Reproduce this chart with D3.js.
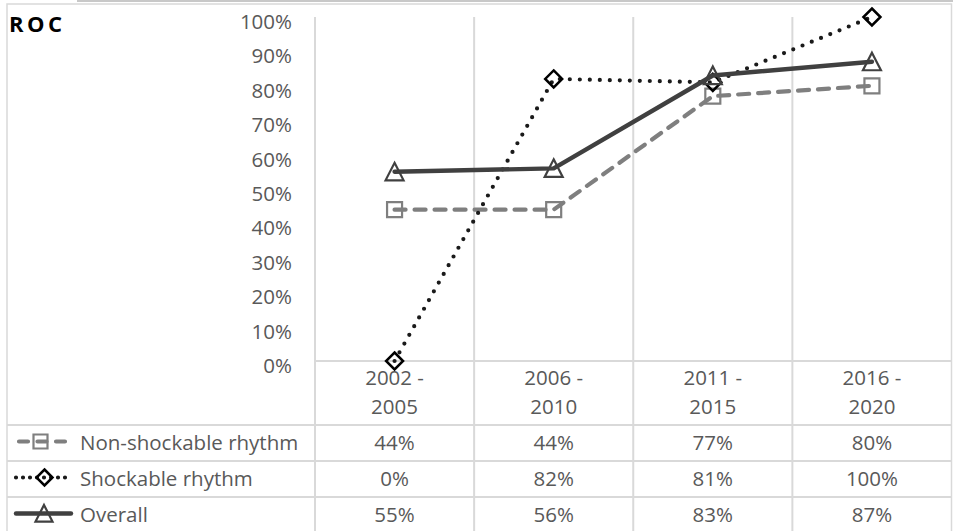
<!DOCTYPE html>
<html>
<head>
<meta charset="utf-8">
<script src="https://cdn.jsdelivr.net/npm/d3@7"></script>
<style>
  html, body { margin: 0; padding: 0; background: #fff; }
  svg { display: block; }
  text { font-family: "Open Sans", Lato, sans-serif; }
</style>
</head>
<body>
<svg id="chart" width="953" height="531"></svg>
<script>
// Periods and ROC rates (%) per rhythm group
const categories = ["2002 - 2005", "2006 - 2010", "2011 - 2015", "2016 - 2020"];
const nonShockable = [44, 44, 77, 80];
const shockable = [0, 82, 81, 100];
const overall = [55, 56, 83, 87];
const yTicks = [0, 10, 20, 30, 40, 50, 60, 70, 80, 90, 100];
const seriesNames = ["Non-shockable rhythm", "Shockable rhythm", "Overall"];

const series = [
  { name: seriesNames[0], values: nonShockable, color: "#7f7f7f", width: 4.2, dash: "11,9", keyDash: "9,9.5", keyX: [-24, 22], keyCx: -2.5, marker: "square", mColor: "#7f7f7f", mWidth: 2.2 },
  { name: seriesNames[1], values: shockable, color: "#1a1a1a", width: 4.2, dash: "0,10", keyDash: "0,7", keyX: [-27, 25], keyCx: 1.5, marker: "diamond", mColor: "#000", mWidth: 2.5 },
  { name: seriesNames[2], values: overall, color: "#404040", width: 4.4, dash: null, keyDash: null, keyX: [-27, 28], keyCx: 1, marker: "triangle", mColor: "#404040", mWidth: 2.2 }
];

const svg = d3.select("#chart");
const grid = "#d9d9d9";
const textColor = "#595959";
const fs = 20.5;

const frame = { left: 7, top: 4, right: 951.5 };
const plot = { left: 315, right: 951.5, top: 17, bottom: 361 };
const rows = [361, 425, 461, 497, 533];
const rowBaselines = [449.5, 485.5, 521.5];

const x = d3.scaleBand().domain(categories).range([plot.left, plot.right]).paddingInner(0).paddingOuter(0);
const y = d3.scaleLinear().domain([0, 100]).range([plot.bottom, plot.top]);
const cx = c => x(c) + x.bandwidth() / 2;

// Thin line above the chart frame
svg.append("line").attr("x1", 77).attr("x2", 953).attr("y1", 1).attr("y2", 1)
  .attr("stroke", "#c8c8c8").attr("stroke-width", 2);

// Chart frame
svg.append("rect").attr("x", frame.left).attr("y", frame.top)
  .attr("width", frame.right - frame.left).attr("height", 600)
  .attr("fill", "none").attr("stroke", grid).attr("stroke-width", 1.5);

// Title
svg.append("text").attr("x", 9).attr("y", 32)
  .attr("font-size", 22).attr("font-weight", 700).attr("letter-spacing", 3.5)
  .attr("font-family", "Lato, sans-serif")
  .attr("fill", "#000").text("ROC");

// Vertical gridlines (category boundaries), running through the data table
const bounds = categories.map(c => x(c));
svg.append("g").selectAll("line").data(bounds).join("line")
  .attr("x1", d => d).attr("x2", d => d)
  .attr("y1", plot.top).attr("y2", 531)
  .attr("stroke", grid).attr("stroke-width", 2);

// Horizontal rules: axis line and table rows
svg.append("line").attr("x1", plot.left).attr("x2", plot.right)
  .attr("y1", rows[0]).attr("y2", rows[0]).attr("stroke", grid).attr("stroke-width", 2);
svg.append("g").selectAll("line").data(rows.slice(1, 4)).join("line")
  .attr("x1", frame.left).attr("x2", plot.right)
  .attr("y1", d => d).attr("y2", d => d)
  .attr("stroke", grid).attr("stroke-width", 2);

// Y axis labels
const yAxis = d3.axisLeft(y).tickValues(yTicks).tickSize(0).tickPadding(0).tickFormat(d => d + "%");
const yg = svg.append("g").attr("transform", `translate(292,11.5)`).call(yAxis);
yg.select(".domain").remove();
yg.selectAll("text").attr("dy", null).attr("font-size", fs).attr("fill", textColor)
  .attr("font-family", "'Open Sans', sans-serif");

// Category labels (two lines)
const catG = svg.append("g");
categories.forEach(c => {
  const parts = c.split(" - ");
  const t = catG.append("text").attr("x", cx(c)).attr("text-anchor", "middle")
    .attr("font-size", fs).attr("fill", textColor);
  t.append("tspan").attr("x", cx(c)).attr("y", 385).text(parts[0] + " -");
  t.append("tspan").attr("x", cx(c)).attr("y", 413.5).text(parts[1]);
});

// Marker shapes
function markerPath(type, s) {
  const h = s / 2;
  if (type === "square") return `M${-h},${-h}H${h}V${h}H${-h}Z`;
  if (type === "diamond") return `M0,${-h}L${h},0L0,${h}L${-h},0Z`;
  return `M0,${-h}L${h},${h * 0.95}L${-h},${h * 0.95}Z`;
}
const markerSize = { square: 15, diamond: 17, triangle: 18 };

// Lines and markers
series.forEach(s => {
  const line = d3.line().x((d, i) => cx(categories[i])).y(d => y(d));
  svg.append("path").datum(s.values).attr("d", line)
    .attr("fill", "none").attr("stroke", s.color).attr("stroke-width", s.width)
    .attr("stroke-linecap", "round").attr("stroke-linejoin", "round")
    .attr("stroke-dasharray", s.dash);
  svg.append("g").selectAll("path").data(s.values).join("path")
    .attr("transform", (d, i) => `translate(${cx(categories[i])},${y(d)})`)
    .attr("d", markerPath(s.marker, markerSize[s.marker]))
    .attr("fill", "none").attr("stroke", s.mColor).attr("stroke-width", s.mWidth);
});

// Data table: legend keys, names and values
series.forEach((s, r) => {
  const mid = (rows[r + 1] + rows[r + 2]) / 2 - 1.5;
  const key = svg.append("g").attr("transform", `translate(43,${mid})`);
  key.append("line").attr("x1", s.keyX[0]).attr("x2", s.keyX[1]).attr("y1", 0).attr("y2", 0)
    .attr("stroke", s.color).attr("stroke-width", s.width)
    .attr("stroke-linecap", "round").attr("stroke-dasharray", s.keyDash);
  key.append("path").attr("transform", `translate(${s.keyCx},0)`)
    .attr("d", markerPath(s.marker, markerSize[s.marker] - 1))
    .attr("fill", "none").attr("stroke", s.mColor).attr("stroke-width", s.mWidth);
  svg.append("text").attr("x", 80).attr("y", rowBaselines[r])
    .attr("font-size", fs).attr("fill", textColor).text(s.name);
  svg.append("g").selectAll("text").data(s.values).join("text")
    .attr("x", (d, i) => cx(categories[i])).attr("y", rowBaselines[r])
    .attr("text-anchor", "middle").attr("font-size", fs).attr("fill", textColor)
    .text(d => d + "%");
});
</script>
</body>
</html>
